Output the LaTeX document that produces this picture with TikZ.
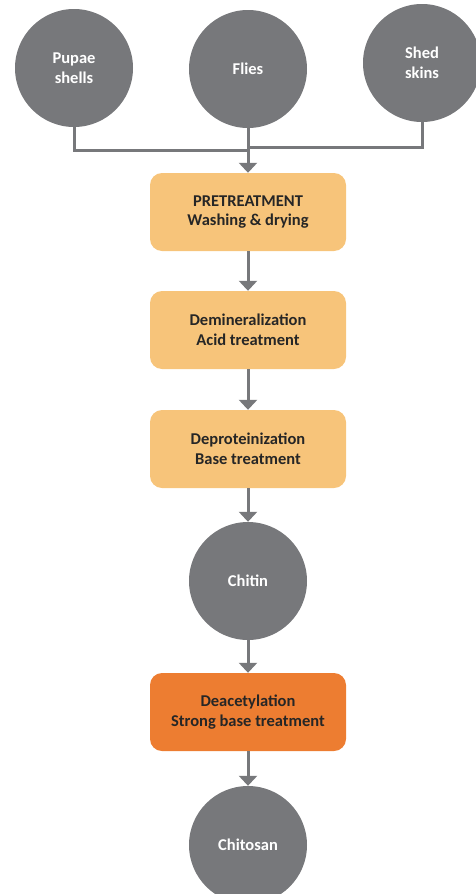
\documentclass[tikz,border=0pt]{standalone}
\usepackage{fontspec}
\setmainfont{Carlito}
\usetikzlibrary{arrows.meta}
\definecolor{circgray}{RGB}{119,120,123}
\definecolor{lightorange}{RGB}{247,196,122}
\definecolor{darkorange}{RGB}{237,125,49}
\definecolor{textdark}{RGB}{38,38,38}
\begin{document}
\begin{tikzpicture}[x=1pt,y=-1pt,
  src/.style={circle, fill=circgray, minimum size=118pt, inner sep=0pt, text=white,
    font=\fontsize{16.5}{19.5}\selectfont\bfseries, align=center},
  stepbox/.style={rectangle, rounded corners=12pt, fill=lightorange, minimum width=196pt,
    minimum height=78pt, inner sep=0pt, text=textdark,
    font=\fontsize{16.5}{19.5}\selectfont\bfseries, align=center},
  conn/.style={draw=circgray, line width=3pt},
  arr/.style={conn, -{Triangle[width=18pt,length=10pt]}}
]
\useasboundingbox (0,0) rectangle (476,894);
\clip (0,0) rectangle (476,894);
\node[src] (pupae) at (74,68) {Pupae\\shells};
\node[src] (flies) at (248,69) {Flies};
\node[src] (shed) at (422,63) {Shed\\skins};
\node[stepbox] (pre) at (248,212) {PRETREATMENT\\Washing \& drying};
\node[stepbox] (demin) at (248,330) {Demineralization\\Acid treatment};
\node[stepbox] (deprot) at (248,449) {Deproteinization\\Base treatment};
\node[src] (chitin) at (248,581) {Chitin};
\node[stepbox, fill=darkorange] (deac) at (248,712) {Deacetylation\\Strong base treatment};
\node[src] (chitosan) at (248,845) {Chitosan};
\coordinate (j1) at (249.5,150);
\coordinate (j2) at (246.5,147);
\draw[conn] (pupae.south) |- (j1);
\draw[conn] (shed.south) |- (j2);
\draw[arr] (flies.south) -- (pre.north);
\draw[arr] (pre.south) -- (demin.north);
\draw[arr] (demin.south) -- (deprot.north);
\draw[arr] (deprot.south) -- (chitin.north);
\draw[arr] (chitin.south) -- (deac.north);
\draw[arr] (deac.south) -- (chitosan.north);
\end{tikzpicture}
\end{document}
